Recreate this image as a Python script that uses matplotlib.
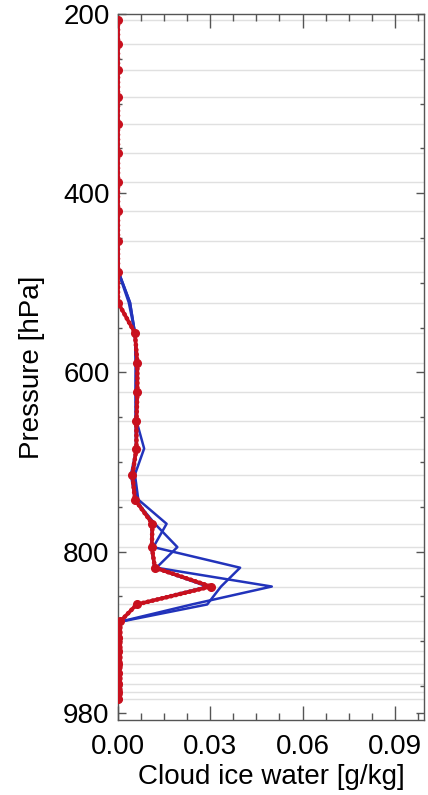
import matplotlib
matplotlib.use("Agg")
import matplotlib.pyplot as plt
from matplotlib.ticker import MultipleLocator, FixedLocator

plt.rcParams['font.family'] = ['Liberation Sans', 'DejaVu Sans']

# model levels (hPa)
levels = [207, 233, 263, 293, 323, 355, 388, 420, 453, 488, 522, 556, 590, 622,
          654, 685, 714, 742, 769, 795, 818, 839, 859, 878, 896, 911, 925, 936,
          948, 957, 964]

blue_1 = [0]*9 + [0.0002, 0.0039, 0.0055, 0.0058, 0.0058, 0.0060, 0.0085, 0.0055,
                  0.0066, 0.0158, 0.0115, 0.0397, 0.0335, 0.0290, 0.0012] + [0]*7
blue_2 = [0]*9 + [0.0002, 0.0039, 0.0055, 0.0058, 0.0057, 0.0057, 0.0060, 0.0042,
                  0.0055, 0.0120, 0.0193, 0.0125, 0.0500, 0.0240, 0.0010] + [0]*7
blue_3 = [0]*9 + [0.0001, 0.0035, 0.0055, 0.0060, 0.0060, 0.0058, 0.0058, 0.0050,
                  0.0060, 0.0110, 0.0108, 0.0118, 0.0290, 0.0060, 0.0008] + [0]*7

red = [0]*11 + [0.0055, 0.0063, 0.0063, 0.0060, 0.0060, 0.0047, 0.0055, 0.0112,
                0.0110, 0.0120, 0.0302, 0.0061, 0.0007] + [0]*7

# extra red points near the surface (dense levels)
red_sfc_levels = [884, 890, 895, 901, 907, 912, 918, 923, 929, 935, 941, 947,
                  953, 959, 965]
red_sfc = [0.0]*15

xticks = [0.00, 0.03, 0.06, 0.09]
xticklabels = ['0.00', '0.03', '0.06', '0.09']
yticks = [200, 400, 600, 800, 980]
yticklabels = ['200', '400', '600', '800', '980']

fig = plt.figure(figsize=(4.28, 7.95), dpi=100)
ax = fig.add_axes([0.2757, 0.0943, 0.7150, 0.8881])

ax.hlines(levels, 0, 1, transform=ax.get_yaxis_transform(), colors='#e0e0e0',
          linewidth=1.0, zorder=0)

blue = '#2233bb'
for series in (blue_3, blue_2, blue_1):
    ax.plot(series, levels, color=blue, linewidth=1.8, zorder=2)

redc = '#c8101e'
ax.plot(red, levels, color=redc, linewidth=2.6, zorder=3)
ax.plot(red, levels, color=redc, linewidth=3.4, linestyle=(0, (0.01, 1.0)),
        dash_capstyle='round', zorder=3)
ax.plot(red, levels, color=redc, linestyle='none', marker='o', markersize=5.5,
        zorder=4)
ax.plot(red_sfc, red_sfc_levels, color=redc, linestyle='none', marker='o',
        markersize=5, zorder=4)

ax.set_xlim(0, 0.0995)
ax.set_ylim(988, 200)

ax.xaxis.set_major_locator(FixedLocator(xticks))
ax.set_xticklabels(xticklabels)
ax.xaxis.set_minor_locator(MultipleLocator(0.0075))
ax.yaxis.set_major_locator(FixedLocator(yticks))
ax.set_yticklabels(yticklabels)
ax.yaxis.set_minor_locator(MultipleLocator(50))

ax.tick_params(which='both', direction='in', top=True, right=True,
               color='#555555', labelsize=20, width=1)
ax.tick_params(axis='x', which='major', length=10, pad=10)
ax.tick_params(axis='x', which='minor', length=5)
ax.tick_params(axis='y', which='major', length=6, pad=6)
ax.tick_params(axis='y', which='minor', length=3)

for s in ax.spines.values():
    s.set_color('#555555')
    s.set_linewidth(1.0)

ax.set_xlabel('Cloud ice water [g/kg]', fontsize=20, labelpad=3)
ax.set_ylabel('Pressure [hPa]', fontsize=20, labelpad=13)

fig.savefig('out.png', dpi=100)
